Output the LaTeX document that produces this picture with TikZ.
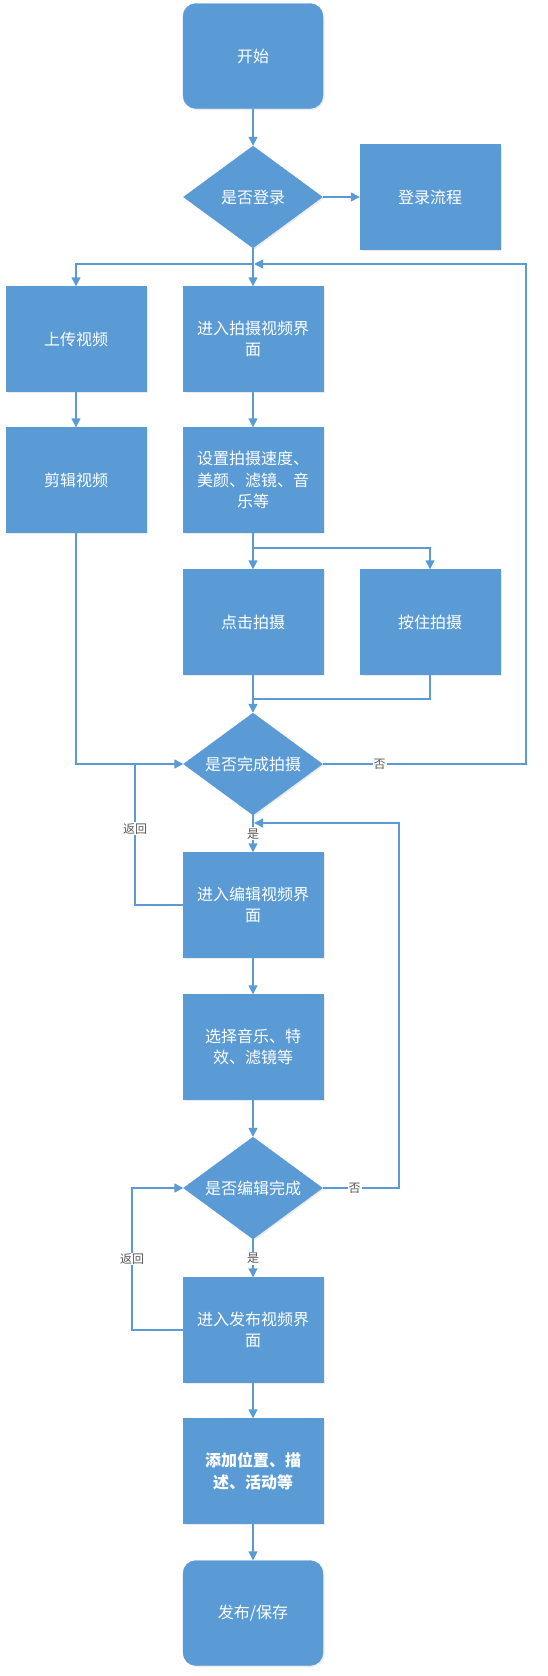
\documentclass[tikz,border=0pt]{standalone}
\usepackage{fontspec}
\setmainfont{Noto Sans CJK SC}
\usetikzlibrary{shapes.geometric,arrows.meta,positioning,shadows}
\definecolor{flowblue}{HTML}{5B9BD5}
\definecolor{labelgray}{HTML}{595959}
\tikzset{
  stepbox/.style   = {shape=rectangle, draw=flowblue, fill=flowblue,
                      text=white, align=center, inner sep=2pt,
                      minimum width=140pt, minimum height=105pt,
                      font=\fontsize{16}{21.5}\selectfont,
                      drop shadow={opacity=0.15, shadow xshift=1.5pt, shadow yshift=-1.5pt}},
  terminal/.style  = {stepbox, rounded corners=13pt},
  decision/.style  = {stepbox, shape=diamond, aspect=1.36, inner sep=1pt,
                      minimum width=139pt, minimum height=102pt},
  flowline/.style  = {draw=flowblue, line width=1.4pt},
  flowarrow/.style = {flowline, -{Triangle[length=9pt,width=9pt]}},
  choice/.style    = {fill=white, text=labelgray, inner sep=1pt,
                      font=\fontsize{12}{14}\selectfont}
}

\begin{document}
\begin{tikzpicture}
[
    x=1pt, y=-1pt
  ]
\useasboundingbox (0,0) rectangle (548,1676);

\node[terminal] (start)     at (253,56)   {开始};
\node[decision] (login)     at (253,197)  {是否登录};
\node[stepbox]  (loginflow) at (430,197)  {登录流程};
\node[stepbox]  (upload)    at (76,339)   {上传视频};
\node[stepbox]  (shootui)   at (253,339)  {进入拍摄视频界\\面};
\node[stepbox]  (cut)       at (76,480)   {剪辑视频};
\node[stepbox]  (setting)   at (253,480)  {设置拍摄速度、\\美颜、滤镜、音\\乐等};
\node[stepbox]  (tap)       at (253,622)  {点击拍摄};
\node[stepbox]  (hold)      at (430,622)  {按住拍摄};
\node[decision] (shotdone)  at (253,764)  {是否完成拍摄};
\node[stepbox]  (editui)    at (253,905)  {进入编辑视频界\\面};
\node[stepbox]  (choose)    at (253,1047) {选择音乐、特\\效、滤镜等};
\node[decision] (editdone)  at (253,1188) {是否编辑完成};
\node[stepbox]  (publishui) at (253,1330) {进入发布视频界\\面};
\node[stepbox]  (addinfo)   at (253,1471) {\bfseries 添加位置、描\\\bfseries 述、活动等};
\node[terminal] (finish)    at (253,1613) {发布/保存};

\coordinate (split1) at (253,264);
\coordinate (split2) at (253,548);
\coordinate (merge1) at (253,699);
\coordinate (back1)  at (253,823);

\draw[flowarrow] (start) -- (login);
\draw[flowarrow] (login) -- (loginflow);
\draw[flowarrow] (login) -- (shootui);
\draw[flowarrow] (split1) -| (upload);
\draw[flowarrow] (upload) -- (cut);
\draw[flowarrow] (cut) |- (shotdone);
\draw[flowarrow] (shootui) -- (setting);
\draw[flowarrow] (setting) -- (tap);
\draw[flowarrow] (split2) -| (hold);
\draw[flowline]  (hold) |- (merge1);
\draw[flowarrow] (tap) -- (shotdone);
\draw[flowarrow] (shotdone.east) -- node[choice, pos=0.28] (no1) {否} (526,764)
                 |- ([xshift=1pt]split1);
\draw[flowarrow] (shotdone) -- node[choice] (yes1) {是} (editui);
\draw[flowline]  (editui.west) -| node[choice, pos=0.77] (ret1) {返回} (135,764);
\draw[flowarrow] (editui) -- (choose);
\draw[flowarrow] (choose) -- (editdone);
\draw[flowarrow] (editdone.east) -- node[choice, pos=0.42] (no2) {否} (399,1188)
                 |- ([xshift=1pt]back1);
\draw[flowarrow] (editdone) -- node[choice] (yes2) {是} (publishui);
\draw[flowarrow] (publishui.west) -| node[choice, pos=0.75] (ret2) {返回} (132,1188)
                 -- (editdone.west);
\draw[flowarrow] (publishui) -- (addinfo);
\draw[flowarrow] (addinfo) -- (finish);
\end{tikzpicture}
\end{document}
